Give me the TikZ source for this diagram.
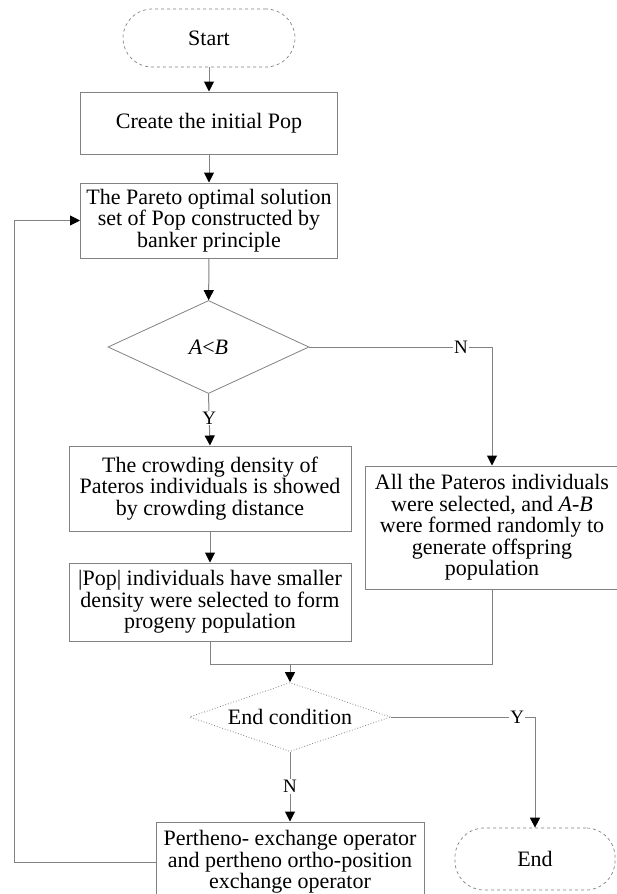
\documentclass[tikz,border=0pt]{standalone}
\usepackage{fontspec}
\setmainfont{Liberation Serif}
\usetikzlibrary{arrows.meta,shapes.geometric}
\definecolor{edge}{RGB}{130,130,130}
\tikzset{
  x=1pt, y=-1pt,
  every node/.style={font=\fontsize{22}{21.5}\selectfont, inner sep=0pt},
  procbox/.style={draw=edge, line width=1pt, rectangle, align=center},
  termbox/.style={draw=edge, line width=0.7pt, dashed, rectangle, rounded corners=29pt, align=center},
  decbox/.style={draw=edge, line width=0.8pt, diamond, align=center},
  conn/.style={draw=edge, line width=1pt},
  arr/.style={conn, -{Triangle[length=10pt,width=10pt,color=black]}},
  lbl/.style={fill=white, inner sep=1pt, font=\fontsize{19}{19}\selectfont},
}
\begin{document}
\begin{tikzpicture}
\useasboundingbox (0,0) rectangle (616,894);
\fill[white] (0,0) rectangle (616,894);

\node[termbox, minimum width=172pt, minimum height=58pt] (start) at (209,38) {Start};
\node[procbox, minimum width=257pt, minimum height=62pt] (create) at (209,123) {Create the initial Pop};
\node[procbox, minimum width=257pt, minimum height=75pt] (pareto) at (209,220.5)
  {The Pareto optimal solution\\set of Pop constructed by\\banker principle};
\node[decbox, aspect=2.16, minimum width=201pt, minimum height=93pt] (ab) at (208.5,347) {\textit{A}<\textit{B}};
\node[procbox, minimum width=282pt, minimum height=85pt] (crowd) at (210,488.5)
  {The crowding density of\\Pateros individuals is showed\\by crowding distance};
\node[procbox, minimum width=282pt, minimum height=78pt] (popsel) at (210,602)
  {|Pop| individuals have smaller\\density were selected to form\\progeny population};
\node[procbox, minimum width=254pt, minimum height=123pt] (allp) at (492,527.5)
  {All the Pateros individuals\\were selected, and \textit{A}-\textit{B}\\were formed randomly to\\generate offspring\\population};
\node[decbox, dotted, aspect=2.9, minimum width=201pt, minimum height=69pt] (endc) at (290,717) {End condition};
\node[procbox, minimum width=268pt, minimum height=80pt] (ops) at (290,862)
  {Pertheno- exchange operator\\and pertheno ortho-position\\exchange operator};
\node[termbox, minimum width=160pt, minimum height=62pt] (endn) at (535,859) {End};

\coordinate (merge) at (290,664);
\coordinate (lx) at (14,0);

\draw[arr] (start) -- (create);
\draw[arr] (create) -- (pareto);
\draw[arr] (pareto) -- (ab);
\draw[arr] (ab.south) -- node[lbl, pos=0.47] {Y} (crowd.north);
\draw[arr] (ab.east) -| node[lbl, pos=0.415] {N} (allp.north);
\draw[arr] (crowd) -- (popsel);
\draw[conn] (popsel.south) |- (allp.south |- merge) -- (allp.south);
\draw[arr] (merge) -- (endc.north);
\draw[arr] (endc.east) -| node[lbl, pos=0.438] {Y} (endn.north);
\draw[arr] (endc.south) -- node[lbl, pos=0.5] {N} (ops.north);
\draw[arr] (ops.west) -- (ops.west -| lx) |- (pareto.west);
\end{tikzpicture}
\end{document}
